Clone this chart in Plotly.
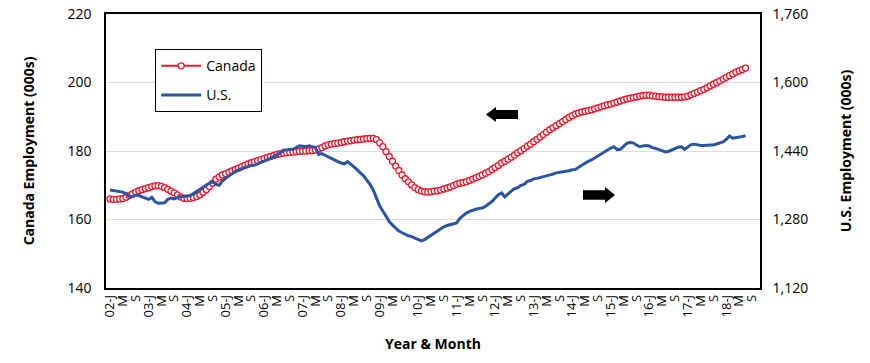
import plotly.graph_objects as go

# Monthly data, 2002-01 .. 2018-07
start_year = 2002
canada = [
    166.0, 165.9, 165.9, 166.0, 166.1, 166.5, 167.0, 167.5, 168.0, 168.4, 168.7, 169.0,
    169.3, 169.6, 169.8, 169.9, 169.7, 169.3, 168.8, 168.3, 167.8, 167.2, 166.6, 166.2,
    166.1, 166.2, 166.4, 166.7, 167.2, 167.9, 168.7, 169.6, 170.6, 171.8, 172.4, 173.0,
    173.4, 173.8, 174.2, 174.6, 175.0, 175.4, 175.8, 176.2, 176.6, 176.9, 177.2, 177.5,
    177.8, 178.1, 178.4, 178.7, 179.0, 179.2, 179.4, 179.5, 179.6, 179.7, 179.8, 179.9,
    180.0, 180.0, 180.1, 180.1, 180.3, 180.6, 181.0, 181.5, 181.8, 182.0, 182.2, 182.3,
    182.5, 182.7, 182.9, 183.0, 183.2, 183.3, 183.4, 183.5, 183.6, 183.7, 183.7, 183.3,
    182.4, 181.3, 179.8, 178.4, 177.0, 175.6, 174.3, 173.0, 171.9, 171.0, 170.1, 169.3,
    168.7, 168.3, 168.1, 168.0, 168.1, 168.3, 168.4, 168.6, 168.9, 169.2, 169.5, 169.9,
    170.3, 170.6, 170.8, 171.0, 171.4, 171.8, 172.2, 172.6, 173.0, 173.5, 174.0, 174.6,
    175.2, 175.8, 176.5, 177.0, 177.6, 178.2, 178.8, 179.5, 180.1, 180.7, 181.4, 182.0,
    182.7, 183.4, 184.1, 184.8, 185.5, 186.2, 186.8, 187.4, 188.0, 188.6, 189.2, 189.8,
    190.3, 190.8, 191.1, 191.4, 191.6, 191.8, 192.0, 192.3, 192.6, 192.9, 193.2, 193.5,
    193.7, 194.0, 194.3, 194.6, 194.9, 195.2, 195.4, 195.6, 195.8, 196.0, 196.2, 196.3,
    196.3, 196.1, 196.0, 195.9, 195.8, 195.7, 195.7, 195.7, 195.7, 195.7, 195.7, 195.8,
    196.0, 196.4, 196.8, 197.2, 197.6, 198.0, 198.5, 199.0, 199.5, 200.0, 200.5, 201.0,
    201.5, 202.0, 202.5, 203.0, 203.4, 203.8, 204.2,
]
us = [
    1349, 1348, 1346, 1345, 1344, 1340, 1334, 1333, 1337, 1336, 1333, 1330,
    1327, 1332, 1322, 1318, 1318, 1319, 1327, 1330, 1328, 1331, 1334, 1334,
    1335, 1336, 1341, 1346, 1351, 1356, 1360, 1365, 1368, 1362, 1360, 1370,
    1376, 1382, 1387, 1392, 1396, 1399, 1402, 1404, 1406, 1407, 1410, 1413,
    1416, 1419, 1423, 1427, 1431, 1435, 1442, 1443, 1444, 1444, 1448, 1452,
    1451, 1450, 1452, 1450, 1448, 1432, 1434, 1430, 1426, 1422, 1419, 1415,
    1412, 1410, 1415, 1410, 1403, 1396, 1390, 1382, 1372, 1362, 1349, 1330,
    1312, 1300, 1287, 1275, 1267, 1259, 1253, 1249, 1245, 1242, 1240, 1237,
    1233, 1230, 1233, 1238, 1244, 1249, 1254, 1259, 1263, 1266, 1268, 1270,
    1272, 1283, 1290, 1295, 1299, 1302, 1304, 1306, 1307, 1311, 1316, 1322,
    1330, 1338, 1342, 1333, 1340, 1347, 1352, 1354, 1360, 1362, 1369, 1371,
    1375, 1376, 1378, 1380, 1381, 1384, 1386, 1389, 1390, 1392, 1393, 1394,
    1396, 1397, 1402, 1407, 1412, 1416, 1419, 1424, 1429, 1434, 1438, 1443,
    1447, 1450, 1443, 1444, 1452, 1458, 1460, 1459, 1454, 1450, 1452, 1453,
    1452, 1448, 1446, 1443, 1440, 1438, 1439, 1442, 1446, 1449, 1450, 1444,
    1449, 1455, 1456, 1454, 1453, 1453, 1454, 1454, 1454, 1456, 1459, 1461,
    1467, 1475, 1470, 1471, 1473, 1474, 1476,
]
left_ticks = [140, 160, 180, 200, 220]
right_ticks = [1120, 1280, 1440, 1600, 1760]
right_ticktext = ["1,120", "1,280", "1,440", "1,600", "1,760"]
month_letters = {1: "J", 5: "M", 9: "S"}

x = list(range(len(canada)))
tick_vals, tick_text = [], []
for k in range(0, 201, 4):
    yr = start_year + k // 12
    m = k % 12 + 1
    tick_vals.append(k)
    tick_text.append(f"{yr % 100:02d}-J" if m == 1 else month_letters[m])

RED = "#E8192C"
BLUE = "#2A55A2"
FONT = "Open Sans"

fig = go.Figure()
fig.add_trace(go.Scatter(
    x=x, y=canada, name="Canada", mode="lines+markers", legendgroup="ca",
    line=dict(color=RED, width=2),
    marker=dict(symbol="circle", size=6, color="white", line=dict(color=RED, width=1.3)),
))
fig.add_trace(go.Scatter(
    x=x, y=us, name="U.S.", mode="lines", yaxis="y2", legendgroup="us",
    line=dict(color=BLUE, width=3),
))

W, H = 870, 363
L, T = 106, 14
R, B = W - 760, H - 288
pw, ph = W - L - R, H - T - B


def px2paper(px, py):
    return (px - L) / pw, (H - B - py) / ph


def arrow_path(x0, x1, yc, h, direction):
    head = 10
    sh = h * 0.3
    if direction == "left":
        pts = [(x0, yc), (x0 + head, yc - h / 2), (x0 + head, yc - sh), (x1, yc - sh),
               (x1, yc + sh), (x0 + head, yc + sh), (x0 + head, yc + h / 2)]
    else:
        pts = [(x1, yc), (x1 - head, yc - h / 2), (x1 - head, yc - sh), (x0, yc - sh),
               (x0, yc + sh), (x1 - head, yc + sh), (x1 - head, yc + h / 2)]
    s = ""
    for i, (a, b) in enumerate(pts):
        u, v = px2paper(a, b)
        s += ("M" if i == 0 else "L") + f"{u:.5f},{v:.5f} "
    return s + "Z"


shapes = [
    dict(type="path", xref="paper", yref="paper", path=arrow_path(486, 518, 114.5, 15, "left"),
         fillcolor="black", line=dict(width=0)),
    dict(type="path", xref="paper", yref="paper", path=arrow_path(583, 615, 195, 16, "right"),
         fillcolor="black", line=dict(width=0)),
]

lx, ly = px2paper(155, 49)

fig.update_layout(
    width=W, height=H,
    margin=dict(l=L, r=R, t=T, b=B, autoexpand=False),
    paper_bgcolor="white", plot_bgcolor="white",
    font=dict(family=FONT, size=13, color="black"),
    showlegend=True,
    legend=dict(
        x=lx, y=ly, xanchor="left", yanchor="top",
        bgcolor="white", bordercolor="black", borderwidth=1.2,
        font=dict(family=FONT, size=14), tracegroupgap=8,
        itemwidth=40,
    ),
    xaxis=dict(
        range=[-1.25, 202.5], tickmode="array", tickvals=tick_vals, ticktext=tick_text,
        tickangle=-90, tickfont=dict(family=FONT, size=13), automargin=False,
        showgrid=False, zeroline=False, showline=True, linecolor="black", linewidth=1.5,
        mirror=True, ticks="", ticklabelstandoff=0,
        title=dict(text="<b>Year & Month</b>", font=dict(family=FONT, size=14), standoff=23),
    ),
    yaxis=dict(
        range=[140, 220], tickvals=left_ticks, showgrid=True, gridcolor="#DCDCDC", gridwidth=1,
        zeroline=False, showline=True, linecolor="black", linewidth=1.5, ticks="",
        automargin=False,
        ticklabelstandoff=10, tickfont=dict(family=FONT, size=14),
        title=dict(text="<b>Canada Employment (000s)</b>", font=dict(family=FONT, size=14), standoff=30),
    ),
    yaxis2=dict(
        range=[1120, 1760], tickvals=right_ticks, ticktext=right_ticktext,
        overlaying="y", side="right", showgrid=False, zeroline=False, automargin=False,
        showline=True, linecolor="black", linewidth=1.5, ticks="",
        ticklabelstandoff=8, tickfont=dict(family=FONT, size=14),
        title=dict(text="<b>U.S. Employment (000s)</b>", font=dict(family=FONT, size=14), standoff=34),
    ),
    shapes=shapes,
)

fig.write_html("out.html", config={"displayModeBar": False},
               post_script="document.body.style.margin='0px';")
